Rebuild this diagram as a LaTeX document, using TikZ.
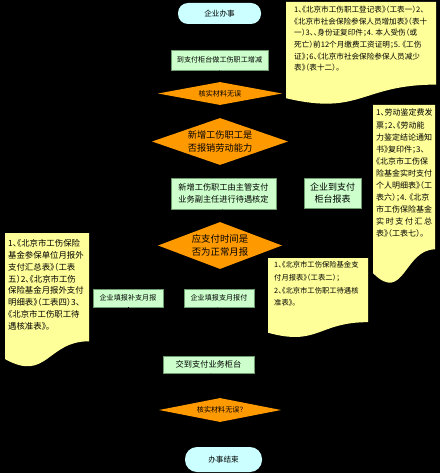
\documentclass[tikz,border=0pt]{standalone}
\usepackage{fontspec}
\setmainfont[RawFeature=+halt]{Noto Sans CJK SC}
\usetikzlibrary{shapes.geometric,arrows.meta}
\definecolor{termc}{HTML}{CCFFFF}
\definecolor{boxc}{HTML}{CCFFCC}
\definecolor{boxd}{HTML}{6E9B6E}
\definecolor{diac}{HTML}{FF9900}
\definecolor{notec}{HTML}{FFFF99}
\newcommand{\docshape}[4]{%
  \fill[notec] (#1,#2) -- (#3,#2) -- (#3,{#2+0.802*(#4-#2)})
    .. controls ({(#1+#3)/2},{#2+0.802*(#4-#2)}) and ({(#1+#3)/2},{#2+1.107*(#4-#2)}) .. (#1,{#2+0.934*(#4-#2)}) -- cycle;}
\tikzset{
  term/.style={fill=termc, rounded corners=10pt, inner sep=0pt, font=\fontsize{7.6}{9}\selectfont},
  procbox/.style={fill=boxc, draw=boxd, line width=0.6pt, inner sep=0pt, align=center},
  dia/.style={diamond, fill=diac, inner sep=0pt},
  notetext/.style={anchor=north west, inner sep=0pt, align=left},
  link/.style={draw=black, -{Stealth[length=4pt]}}
}
\begin{document}
\begin{tikzpicture}[x=1pt,y=-1pt]
\fill[black] (0,0) rectangle (440,473);
\useasboundingbox (0,0) rectangle (440,473);

% notes
\docshape{286}{2}{436}{105}
\node[notetext, font=\fontsize{7.6}{11.6}\selectfont] (na) at (294,6)
 {1、《北京市工伤职工登记表》（工表一）2、\\
  《北京市社会保险参保人员增加表》（表十\\
  一）3、、身份证复印件；4. 本人受伤（或\\
  死亡）前12个月缴费工资证明；5. 《工伤\\
  证》；6、《北京市社会保险参保人员减少\\
  表》（表十二）。};

\docshape{373}{105}{435}{285}
\node[notetext, font=\fontsize{8}{12.1}\selectfont] (nb) at (376,109)
 {1、劳动鉴定费发\\
  票；2、《劳动能\\
  力鉴定结论通知\\
  书》复印件；3、\\
  《北京市工伤保\\
  险基金实时支付\\
  个人明细表》（工\\
  表六）；4. 《北京\\
  市工伤保险基金\\
  \makebox[56pt][s]{实\hfill 时\hfill 支\hfill 付\hfill 汇\hfill 总}\\
  表》（工表七）。};

\docshape{5}{233}{89}{368}
\node[notetext, font=\fontsize{8.4}{11.9}\selectfont] (nc) at (8,239)
 {1、《北京市工伤保险\\
  基金参保单位月报外\\
  支付汇总表》（工表\\
  五）2、《北京市工伤\\
  保险基金月报外支付\\
  明细表》（工表四）3、\\
  《北京市工伤职工待\\
  遇核准表》。};

\docshape{268}{258}{368}{338}
\node[notetext, font=\fontsize{7.3}{12.8}\selectfont] (nd) at (274,261)
 {1、《北京市工伤保险基金支\\
  付月报表》（工表二）；\\
  2、《北京市工伤职工待遇核\\
  准表》。};

% main flow
\node[term, minimum width=83pt, minimum height=21pt] (start) at (219.5,13.5) {企业办事};
\node[procbox, minimum width=97pt, minimum height=20pt, font=\fontsize{7.1}{9}\selectfont] (b1) at (219.5,60) {到支付柜台做工伤职工增减};
\node[dia, minimum width=124pt, minimum height=23pt,
  label={[font=\fontsize{7.1}{9}\selectfont]center:核实材料无误}] (d1) at (220,93.5) {};
\node[dia, minimum width=136pt, minimum height=47pt,
  label={[font=\fontsize{9.2}{13.3}\selectfont, align=center]center:新增工伤职工是\\否报销劳动能力}] (d2) at (220,141.5) {};
\node[procbox, minimum width=105pt, minimum height=31pt, font=\fontsize{8.2}{12}\selectfont] (b2) at (223.5,193.5) {新增工伤职工由主管支付\\业务副主任进行待遇核定};
\node[procbox, minimum width=57pt, minimum height=30pt, font=\fontsize{9}{12}\selectfont] (b3) at (332.5,193) {企业到支付\\柜台报表};
\node[dia, minimum width=124pt, minimum height=47pt,
  label={[font=\fontsize{9.4}{13.3}\selectfont, align=center]center:应支付时间是\\否为正常月报}] (d3) at (220,245.5) {};
\node[procbox, minimum width=70pt, minimum height=18pt, font=\fontsize{7.1}{9}\selectfont] (b4) at (128,298) {企业填报补支月报};
\node[procbox, minimum width=70pt, minimum height=18pt, font=\fontsize{7.1}{9}\selectfont] (b5) at (219,298) {企业填报支月报付};
\node[procbox, minimum width=91pt, minimum height=17pt, font=\fontsize{8.2}{10}\selectfont] (b6) at (208.5,364.5) {交到支付业务柜台};
\node[dia, minimum width=122pt, minimum height=24pt,
  label={[font=\fontsize{7.1}{9}\selectfont]center:核实材料无误？}] (d4) at (220,410) {};
\node[term, minimum width=77pt, minimum height=25pt, rounded corners=12pt] (end) at (223.5,459.5) {办事结束};

% connectors (black, as in the reference)
\path[link] (start) -- (b1);
\path[link] (b1) -- (d1);
\path[link] (d1) -- (d2);
\path[link] (d2) -- (b2);
\path[link] (d2) -| (b3);
\path[link] (b2) -- (d3);
\path[link] (d3) -| (b4);
\path[link] (d3) -- (b5);
\path[link] (b4) |- (b6);
\path[link] (b5) -- (b6);
\path[link] (b6) -- (d4);
\path[link] (d4) -- (end);
\end{tikzpicture}
\end{document}
